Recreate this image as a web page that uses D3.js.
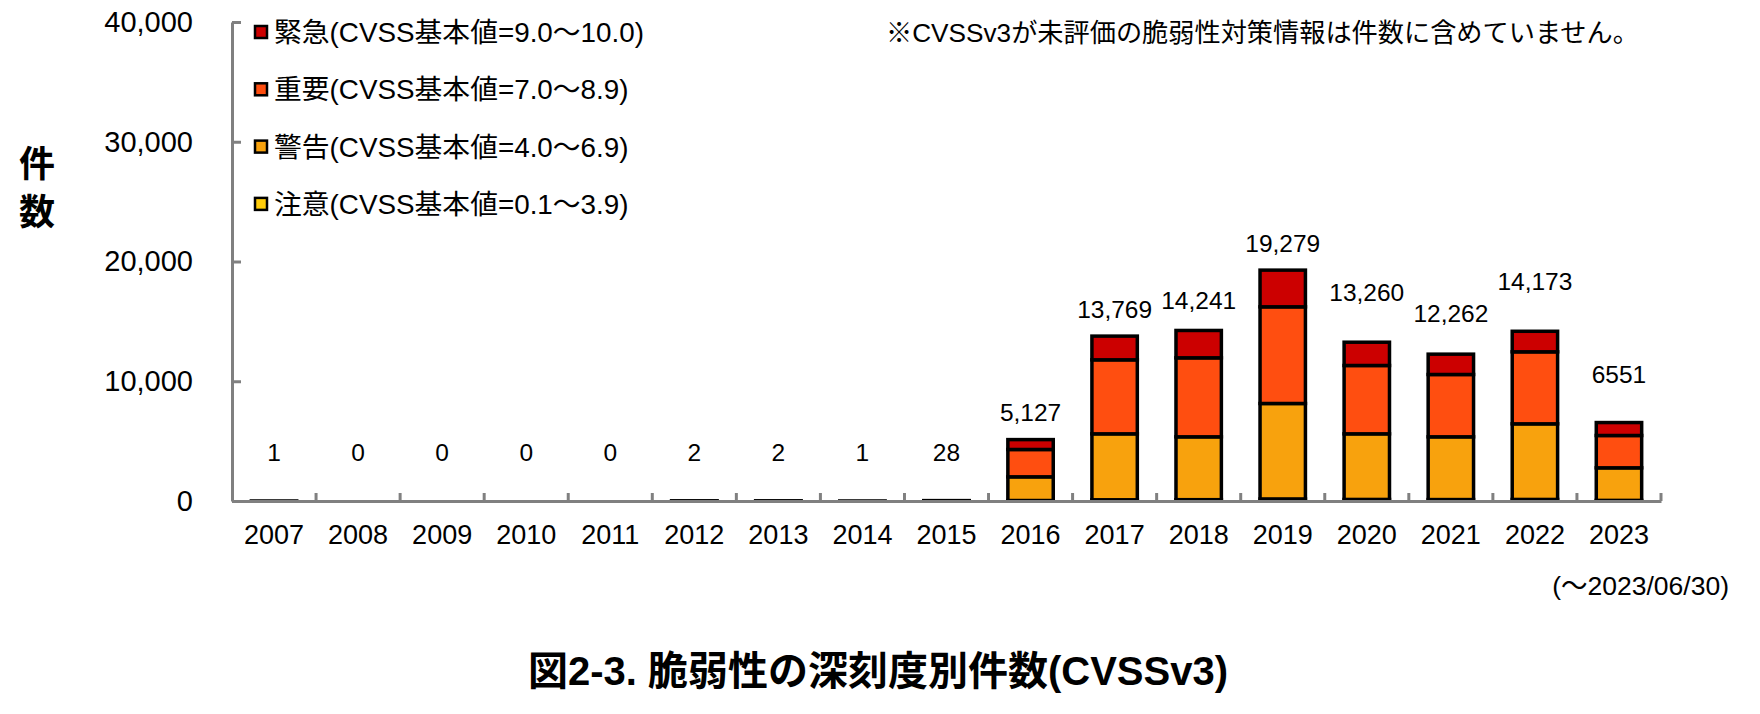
<!DOCTYPE html>
<html><head><meta charset="utf-8">
<script src="https://cdn.jsdelivr.net/npm/d3@7"></script>
<style>
body{margin:0;background:#fff}
svg{display:block}
text{font-family:"Liberation Sans","Noto Sans CJK JP",sans-serif;fill:#000}
</style>
</head><body>
<svg id="chart" width="1760" height="714"></svg>
<script>
// ---- data ----
const years = ["2007","2008","2009","2010","2011","2012","2013","2014","2015","2016","2017","2018","2019","2020","2021","2022","2023"];
const seriesKeys = ["chui","keikoku","juyo","kinkyu"];
const seriesNames = ["注意(CVSS基本値=0.1～3.9)","警告(CVSS基本値=4.0～6.9)","重要(CVSS基本値=7.0～8.9)","緊急(CVSS基本値=9.0～10.0)"];
const chui    = [0,0,0,0,0,0,0,0,1,  40, 100, 110, 170, 130, 120, 130,  50];
const keikoku = [1,0,0,0,0,1,1,1,10,1978,5509,5249,7972,5479,5239,6314,2720];
const juyo    = [0,0,0,0,0,1,1,0,14,2283,6180,6597,8073,5706,5205,6013,2700];
const kinkyu  = [0,0,0,0,0,0,0,0,3,  826,1980,2285,3064,1945,1698,1716,1081];
const totals  = [1,0,0,0,0,2,2,1,28,5127,13769,14241,19279,13260,12262,14173,6551];
const totalLabels = ["1","0","0","0","0","2","2","1","28","5,127","13,769","14,241","19,279","13,260","12,262","14,173","6551"];
const yTicks = [0,10000,20000,30000,40000];
const yMax = 40000;
const titleText = "図2-3. 脆弱性の深刻度別件数(CVSSv3)";
const noteText = "※CVSSv3が未評価の脆弱性対策情報は件数に含めていません。";
const periodText = "(～2023/06/30)";
const yTitleChars = ["件","数"];

// ---- layout / style ----
const colors = {chui:"#FFCC0A", keikoku:"#F8A20D", juyo:"#FF4E10", kinkyu:"#CC0000"};
const labelLift = [40,40,40,40,40,40,40,40,40,19,18,21,18,41,32,41,40];
const plot = {left:232, right:1661, top:22, bottom:501};

const svg = d3.select("#chart");
const x = d3.scaleBand().domain(years).range([plot.left, plot.right]).paddingInner(0.46).paddingOuter(0.23);
const y = d3.scaleLinear().domain([0, yMax]).range([plot.bottom, plot.top]);

const table = years.map((yr,i)=>({year:yr, chui:chui[i], keikoku:keikoku[i], juyo:juyo[i], kinkyu:kinkyu[i]}));
const stacked = d3.stack().keys(seriesKeys)(table);

// bars
const g = svg.append("g");
stacked.forEach(layer=>{
  g.append("g").selectAll("rect").data(layer.filter(d=>d[1]-d[0]>0)).join("rect")
    .attr("x", d=>x(d.data.year))
    .attr("width", x.bandwidth())
    .attr("y", d=>y(d[1]))
    .attr("height", d=>Math.max(0, y(d[0])-y(d[1])))
    .attr("fill", colors[layer.key])
    .attr("stroke", "#000")
    .attr("stroke-width", 3.5);
});

// y axis
const yAxis = svg.append("g").attr("transform",`translate(${plot.left},0)`)
  .call(d3.axisLeft(y).tickValues(yTicks).tickFormat(d3.format(",")).tickSizeInner(-9).tickSizeOuter(0).tickPadding(39));
yAxis.select(".domain").attr("stroke","#808080").attr("stroke-width",3);
yAxis.selectAll(".tick line").attr("stroke","#808080").attr("stroke-width",3);
yAxis.selectAll("text").attr("font-size",29).attr("font-family","Liberation Sans, sans-serif");

// x axis
const xAxis = svg.append("g").attr("transform",`translate(0,${plot.bottom})`)
  .call(d3.axisBottom(x).tickSize(0).tickPadding(24));
xAxis.select(".domain").attr("stroke","#808080").attr("stroke-width",3);
xAxis.selectAll("text").attr("font-size",27);
// category boundary ticks (inside)
const gap = x.step() - x.bandwidth();
const bounds = years.slice(1).map(yr=>x(yr)-gap/2).concat([x(years[years.length-1])+x.bandwidth()+gap/2]);
xAxis.selectAll("line.bound").data(bounds).join("line").attr("class","bound")
  .attr("x1",d=>d).attr("x2",d=>d).attr("y1",0).attr("y2",-8)
  .attr("stroke","#808080").attr("stroke-width",3);

// data labels
svg.append("g").selectAll("text").data(years).join("text")
  .attr("x", d=>x(d)+x.bandwidth()/2)
  .attr("y", (d,i)=>y(totals[i]) - labelLift[i])
  .attr("text-anchor","middle").attr("font-size",24.5)
  .text((d,i)=>totalLabels[i]);

// legend
const legendOrder = [3,2,1,0];
const lg = svg.append("g").attr("transform","translate(254,32)");
legendOrder.forEach((si,row)=>{
  const r = lg.append("g").attr("transform",`translate(0,${row*57.3})`);
  r.append("rect").attr("x",1).attr("y",-6).attr("width",12).attr("height",12)
    .attr("fill",colors[seriesKeys[si]]).attr("stroke","#000").attr("stroke-width",2.5);
  r.append("text").attr("x",20).attr("y",0).attr("dy","0.36em").attr("font-size",27.8).text(seriesNames[si]);
});

// note
svg.append("text").attr("x",886).attr("y",33).attr("dy","0.36em").attr("font-size",26.2)
  .attr("font-family","Noto Sans CJK JP, sans-serif").text(noteText);

// y title
svg.append("g").selectAll("text").data(yTitleChars).join("text")
  .attr("x",37).attr("y",(d,i)=>164+i*48).attr("dy","0.36em").attr("text-anchor","middle")
  .attr("font-size",36).attr("font-weight","bold").attr("font-family","Noto Sans CJK JP, sans-serif").text(d=>d);

// period
svg.append("text").attr("x",1729).attr("y",585).attr("dy","0.36em").attr("text-anchor","end")
  .attr("font-size",26.5).text(periodText);

// title
svg.append("text").attr("x",878).attr("y",671).attr("dy","0.36em").attr("text-anchor","middle")
  .attr("font-size",40).attr("font-weight","bold").attr("font-family","Noto Sans CJK JP, sans-serif").text(titleText);
</script>
</body></html>
